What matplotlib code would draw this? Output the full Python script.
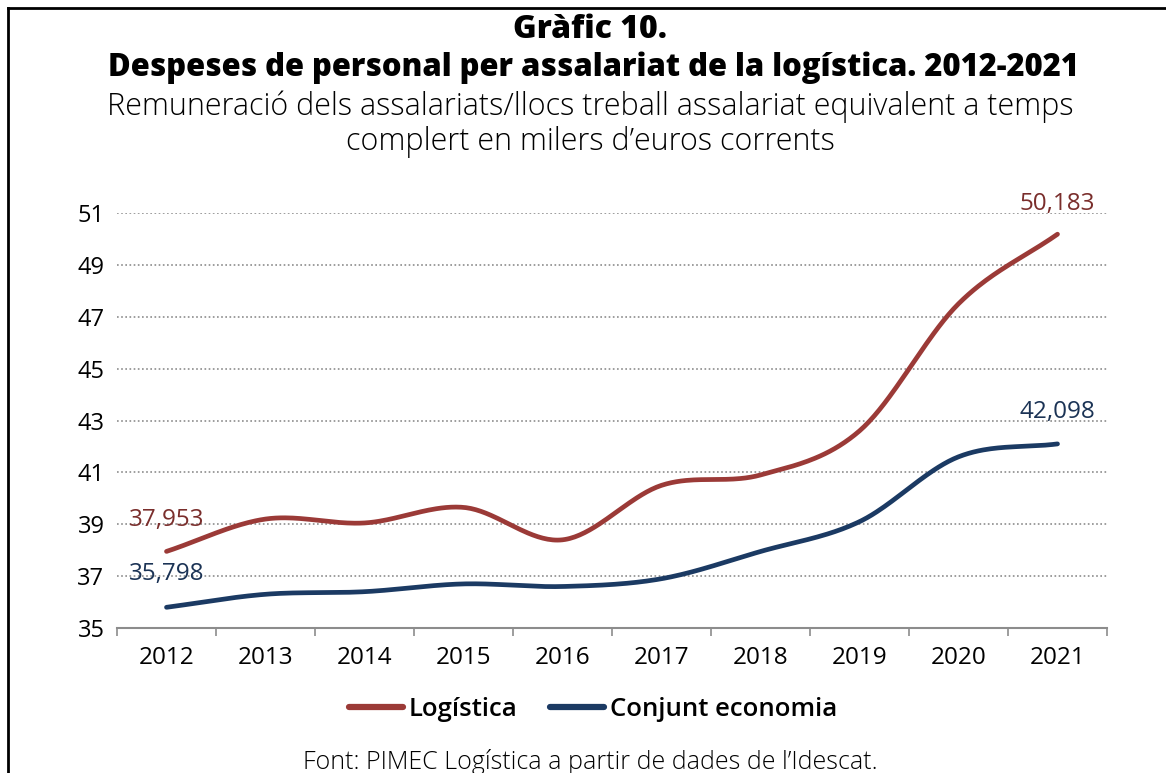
import numpy as np
import matplotlib
matplotlib.use("Agg")
import matplotlib.pyplot as plt
from matplotlib.lines import Line2D

plt.rcParams['font.family'] = ['Open Sans', 'DejaVu Sans']

years = ['2012', '2013', '2014', '2015', '2016', '2017', '2018', '2019', '2020', '2021']
logistica = [37.953, 39.2, 39.05, 39.65, 38.4, 40.5, 40.9, 42.6, 47.5, 50.183]
conjunt = [35.798, 36.3, 36.4, 36.7, 36.6, 36.9, 37.95, 39.1, 41.6, 42.098]
yticks = [35, 37, 39, 41, 43, 45, 47, 49, 51]

RED = '#9B3A37'
NAVY = '#1B3A63'
RED_TXT = '#7A2E2C'
NAVY_TXT = '#1B3355'


def catmull(xs, ys, n=40):
    xs = np.asarray(xs, float)
    ys = np.asarray(ys, float)
    px = np.concatenate([[2 * xs[0] - xs[1]], xs, [2 * xs[-1] - xs[-2]]])
    py = np.concatenate([[2 * ys[0] - ys[1]], ys, [2 * ys[-1] - ys[-2]]])
    ox, oy = [], []
    for i in range(1, len(px) - 2):
        t = np.linspace(0, 1, n, endpoint=False)
        for P, out in ((px, ox), (py, oy)):
            p0, p1, p2, p3 = P[i - 1], P[i], P[i + 1], P[i + 2]
            out.extend(0.5 * ((2 * p1) + (-p0 + p2) * t + (2 * p0 - 5 * p1 + 4 * p2 - p3) * t ** 2
                              + (-p0 + 3 * p1 - 3 * p2 + p3) * t ** 3))
    ox.append(xs[-1])
    oy.append(ys[-1])
    return np.array(ox), np.array(oy)


W, H = 1166, 773
fig = plt.figure(figsize=(W / 100, H / 100), dpi=100)
ax = fig.add_axes([117 / W, 1 - 628 / H, (1107 - 117) / W, (628 - 213) / H])

x = np.arange(len(years))
for vals, col in ((logistica, RED), (conjunt, NAVY)):
    sx, sy = catmull(x, vals)
    ax.plot(sx, sy, color=col, lw=3.4, solid_capstyle='round', zorder=3)

ax.set_xlim(-0.5, len(years) - 0.5)
ax.set_ylim(35, 51)
ax.set_yticks(yticks)
ax.set_yticklabels([str(v) for v in yticks], fontsize=17, fontweight='medium')
ax.set_xticks(x)
ax.set_xticklabels(years, fontsize=17.5, fontweight='medium')
ax.tick_params(axis='both', length=0, colors='black')
ax.tick_params(axis='y', pad=9)
ax.tick_params(axis='x', pad=13)
ax.set_xticks(np.arange(-0.5, len(years)), minor=True)
ax.tick_params(axis='x', which='minor', length=6, width=1.2, color='#8c8c8c', direction='out')

for v in yticks[1:]:
    ax.axhline(v, color='#8c8c8c', lw=1.2, ls=(0, (1, 1.5)), zorder=1)

for s in ('top', 'right', 'left'):
    ax.spines[s].set_visible(False)
ax.spines['bottom'].set_color('#8c8c8c')
ax.spines['bottom'].set_linewidth(1.5)


def lab(v):
    return f"{v:.3f}".replace('.', ',')


ax.annotate(lab(logistica[0]), (0, logistica[0]), xytext=(0, 14), textcoords='offset points',
            ha='center', va='bottom', fontsize=17.5, color=RED_TXT)
ax.annotate(lab(conjunt[0]), (0, conjunt[0]), xytext=(0, 15), textcoords='offset points',
            ha='center', va='bottom', fontsize=17.5, color=NAVY_TXT)
ax.annotate(lab(logistica[-1]), (9, logistica[-1]), xytext=(0, 13), textcoords='offset points',
            ha='center', va='bottom', fontsize=17.5, color=RED_TXT)
ax.annotate(lab(conjunt[-1]), (9, conjunt[-1]), xytext=(0, 14), textcoords='offset points',
            ha='center', va='bottom', fontsize=17.5, color=NAVY_TXT)

# titles
fig.text(590 / W, 1 - 30 / H, 'Gràfic 10.', ha='center', va='center', fontsize=23, fontweight='heavy')
fig.text(593 / W, 1 - 68 / H, 'Despeses de personal per assalariat de la logística. 2012-2021',
         ha='center', va='center', fontsize=22.3, fontweight='heavy')
fig.text(590 / W, 1 - 107 / H, 'Remuneració dels assalariats/llocs treball assalariat equivalent a temps',
         ha='center', va='center', fontsize=22, fontweight='light')
fig.text(590 / W, 1 - 142 / H, 'complert en milers d’euros corrents',
         ha='center', va='center', fontsize=22, fontweight='light')

handles = [Line2D([], [], color=RED, lw=4.5, solid_capstyle='round'),
           Line2D([], [], color=NAVY, lw=4.5, solid_capstyle='round')]
fig.legend(handles, ['Logística', 'Conjunt economia'], loc='center', bbox_to_anchor=(593 / W, 1 - 709 / H),
           ncol=2, frameon=False, prop={'size': 18.5, 'weight': 'semibold'},
           handlelength=2.1, handletextpad=0.2, columnspacing=1.3)

fig.text(590 / W, 1 - 762 / H, 'Font: PIMEC Logística a partir de dades de l’Idescat.',
         ha='center', va='center', fontsize=18, fontweight='light')

# frame (left and top)
fig.add_artist(Line2D([8 / W, 8 / W], [0, 1 - 8 / H], color='black', lw=2, transform=fig.transFigure))
fig.add_artist(Line2D([8 / W, 1], [1 - 8 / H, 1 - 8 / H], color='black', lw=2, transform=fig.transFigure))

fig.savefig('out.png', dpi=100)
